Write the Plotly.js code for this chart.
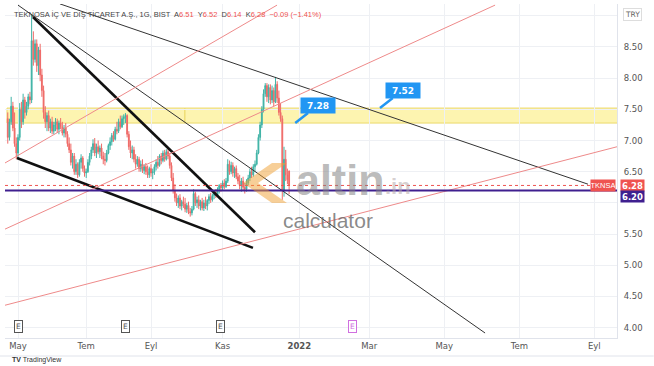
<!DOCTYPE html>
<html><head><meta charset="utf-8">
<script src="https://cdn.plot.ly/plotly-3.0.1.min.js"></script>
<style>html,body{margin:0;padding:0;background:#fff}#chart{width:654px;height:366px}</style>
</head><body><div id="chart"></div>
<script>
// ---- data (daily candles, TKNSA, BIST) ----
const firstDay = '2021-04-22';
const holidays = ['2021-04-23','2021-05-13','2021-05-14','2021-05-19','2021-07-15','2021-07-20','2021-07-21','2021-07-22','2021-07-23','2021-08-30','2021-10-29'];
const open = [7.35,7.05,7.30,7.55,7.20,6.95,6.80,7.05,7.50,7.30,7.65,7.45,7.55,7.70,7.65,8.60,8.30,8.55,8.20,8.45,8.05,7.80,7.45,7.30,7.40,7.20,7.30,7.15,7.25,7.30,7.18,7.28,7.22,7.12,7.20,7.10,6.95,6.85,6.65,6.75,6.50,6.62,6.45,6.65,6.72,6.55,6.48,6.50,6.65,6.75,6.85,6.95,6.80,6.90,6.82,6.88,6.75,6.70,6.68,6.80,6.92,6.98,7.08,7.02,7.18,7.15,7.30,7.22,7.35,7.38,7.40,7.10,6.90,6.80,6.85,6.70,6.62,6.70,6.55,6.62,6.52,6.58,6.50,6.45,6.55,6.48,6.50,6.58,6.65,6.60,6.75,6.68,6.80,6.70,6.82,6.75,6.60,6.40,6.20,6.08,6.00,6.08,5.95,6.02,5.98,5.90,5.96,5.86,5.84,5.90,6.15,6.00,6.05,5.95,6.02,5.92,6.00,5.95,6.04,6.10,6.05,6.12,6.18,6.12,6.22,6.28,6.24,6.32,6.26,6.35,6.62,6.50,6.60,6.48,6.55,6.42,6.35,6.28,6.35,6.25,6.22,6.32,6.40,6.50,6.45,6.58,6.62,6.80,7.05,7.25,7.50,7.75,7.88,7.70,7.85,7.65,7.80,7.62,7.90,7.68,7.45,7.35,6.20,6.70,6.45,6.51];
const high = [7.45,7.35,7.70,7.62,7.45,7.05,7.10,7.60,7.62,7.75,7.70,7.62,7.75,7.78,9.02,8.75,8.62,8.62,8.50,8.55,8.15,7.88,7.55,7.45,7.48,7.35,7.38,7.30,7.36,7.35,7.32,7.36,7.30,7.25,7.28,7.15,7.05,6.95,6.80,6.80,6.70,6.65,6.70,6.78,6.75,6.60,6.55,6.70,6.80,6.90,7.02,7.04,6.95,7.00,6.92,6.95,6.82,6.80,6.85,6.95,7.05,7.12,7.15,7.22,7.30,7.35,7.40,7.40,7.42,7.44,7.42,7.15,7.00,6.92,6.90,6.78,6.75,6.74,6.68,6.70,6.62,6.64,6.60,6.58,6.62,6.55,6.62,6.70,6.75,6.78,6.80,6.84,6.85,6.86,6.88,6.80,6.65,6.48,6.30,6.15,6.12,6.14,6.05,6.10,6.08,6.00,6.02,5.92,5.95,6.22,6.18,6.10,6.12,6.05,6.08,6.05,6.10,6.06,6.14,6.16,6.15,6.20,6.22,6.25,6.30,6.32,6.36,6.38,6.40,6.70,6.68,6.66,6.65,6.58,6.60,6.48,6.45,6.40,6.42,6.32,6.38,6.45,6.55,6.58,6.62,6.68,6.85,7.10,7.30,7.55,7.82,7.92,7.92,7.90,7.90,7.88,7.85,8.02,7.95,7.80,7.60,7.40,6.90,6.85,6.55,6.52];
const low = [6.95,7.00,7.25,7.15,6.90,6.70,6.72,7.00,7.20,7.25,7.35,7.40,7.50,7.58,7.60,8.20,8.25,8.10,8.05,7.95,7.70,7.35,7.20,7.15,7.15,7.12,7.10,7.10,7.15,7.12,7.10,7.18,7.08,7.05,7.05,6.90,6.80,6.60,6.55,6.45,6.45,6.40,6.42,6.55,6.50,6.42,6.40,6.48,6.60,6.70,6.80,6.75,6.72,6.78,6.72,6.70,6.62,6.60,6.65,6.78,6.85,6.92,6.98,7.00,7.10,7.12,7.18,7.20,7.25,7.28,7.05,6.85,6.72,6.70,6.65,6.55,6.58,6.50,6.50,6.48,6.46,6.45,6.40,6.40,6.42,6.38,6.45,6.52,6.55,6.58,6.62,6.65,6.66,6.68,6.70,6.55,6.35,6.15,6.02,5.95,5.92,5.90,5.88,5.92,5.85,5.84,5.82,5.78,5.80,5.88,5.95,5.92,5.90,5.88,5.88,5.87,5.90,5.88,5.98,6.00,6.02,6.06,6.08,6.10,6.15,6.18,6.20,6.22,6.24,6.32,6.45,6.46,6.42,6.40,6.38,6.30,6.22,6.18,6.20,6.15,6.18,6.28,6.35,6.40,6.42,6.50,6.60,6.78,7.00,7.20,7.45,7.70,7.62,7.60,7.58,7.60,7.55,7.60,7.60,7.40,7.30,6.05,6.10,6.35,6.30,6.14];
const close = [7.05,7.30,7.55,7.20,6.95,6.80,7.05,7.50,7.30,7.65,7.45,7.55,7.70,7.65,8.60,8.30,8.55,8.20,8.45,8.05,7.80,7.45,7.30,7.40,7.20,7.30,7.15,7.25,7.30,7.18,7.28,7.22,7.12,7.20,7.10,6.95,6.85,6.65,6.75,6.50,6.62,6.45,6.65,6.72,6.55,6.48,6.50,6.65,6.75,6.85,6.95,6.80,6.90,6.82,6.88,6.75,6.70,6.68,6.80,6.92,6.98,7.08,7.02,7.18,7.15,7.30,7.22,7.35,7.38,7.40,7.10,6.90,6.80,6.85,6.70,6.62,6.70,6.55,6.62,6.52,6.58,6.50,6.45,6.55,6.48,6.50,6.58,6.65,6.60,6.75,6.68,6.80,6.70,6.82,6.75,6.60,6.40,6.20,6.08,6.00,6.08,5.95,6.02,5.98,5.90,5.96,5.86,5.84,5.90,6.15,6.00,6.05,5.95,6.02,5.92,6.00,5.95,6.04,6.10,6.05,6.12,6.18,6.12,6.22,6.28,6.24,6.32,6.26,6.35,6.62,6.50,6.60,6.48,6.55,6.42,6.35,6.28,6.35,6.25,6.22,6.32,6.40,6.50,6.45,6.58,6.62,6.80,7.05,7.25,7.50,7.75,7.88,7.70,7.85,7.65,7.80,7.62,7.90,7.68,7.45,7.35,6.20,6.70,6.45,6.37,6.28];

// x axis ticks (Turkish month names)
const tickDates = ['2021-05-03','2021-07-01','2021-09-01','2021-11-01','2022-01-03','2022-03-01','2022-05-02','2022-07-01','2022-09-01'];
const tickLabels = ['May','Tem','Eyl','Kas','<b>2022</b>','Mar','May','Tem','Eyl'];
const priceTicks = [4,4.5,5,5.5,6,6.5,7,7.5,8,8.5,9];
const priceTickLabels = ['4.00','4.50','5.00','5.50','','6.50','7.00','7.50','8.00','8.50',''];

// drawings (date, price endpoints)
const thickLines = [
  {x:['2021-05-17 19:00','2021-11-26 00:00'], y:[8.98,5.53]},
  {x:['2021-04-30 10:00','2021-11-24 19:00'], y:[6.72,5.28]}
];
const thinLines = [
  {x:['2021-05-03 00:00','2022-06-02 22:00'], y:[9.17,3.915]},
  {x:['2021-06-09 14:00','2022-08-26 07:00'], y:[9.19,6.30]}
];
const redLines = [
  {x:['2021-04-20 09:00','2022-09-20 07:00'], y:[4.36,6.90]},
  {x:['2021-04-20 09:00','2022-06-10 19:00'], y:[5.58,9.17]},
  {x:['2021-04-20 09:00','2021-12-14 22:00'], y:[6.64,9.17]}
];
const zone = {low:7.28, high:7.52, x:['2021-04-21 13:00','2021-09-28 22:00','2022-10-31']};
const lastPrice = 6.28, supportLevel = 6.20;
const callouts = [{x:'2021-12-29 14:00', y:7.28, text:'7.28'},{x:'2022-03-09 07:00', y:7.52, text:'7.52'}];
const earnings = [{x:'2021-05-03',c:'#555'},{x:'2021-08-10',c:'#555'},{x:'2021-10-28',c:'#555'},{x:'2022-02-15',c:'#d070e0'}];
const xRange = ['2021-04-20 09:00','2022-09-20 07:00'];
const yRange = [3.835, 9.188];

function tradingDays(start, n){
  const out=[]; const d=new Date(start+'T00:00:00Z');
  while(out.length<n){
    const s=d.toISOString().slice(0,10), w=d.getUTCDay();
    if(w!==0 && w!==6 && !holidays.includes(s)) out.push(s);
    d.setUTCDate(d.getUTCDate()+1);
  }
  return out;
}
const dates = tradingDays(firstDay, close.length);

const traces = [{
  type:'candlestick', x:dates, open:open, high:high, low:low, close:close,
  increasing:{line:{color:'#3fb3a6',width:1},fillcolor:'#3fb3a6'},
  decreasing:{line:{color:'#ef6a67',width:1},fillcolor:'#ef6a67'},
  hoverinfo:'skip', showlegend:false
}];
thickLines.forEach(l=>traces.push({type:'scatter',mode:'lines',x:l.x,y:l.y,line:{color:'#111',width:2.6},hoverinfo:'skip',showlegend:false}));
thinLines.forEach(l=>traces.push({type:'scatter',mode:'lines',x:l.x,y:l.y,line:{color:'#333',width:1},hoverinfo:'skip',showlegend:false}));
redLines.forEach(l=>traces.push({type:'scatter',mode:'lines',x:l.x,y:l.y,line:{color:'#ee8a8a',width:1},hoverinfo:'skip',showlegend:false}));

const px = v => (v-5)/612, py = v => (338-v)/334;
const shapes = [
  {type:'rect',xref:'x',yref:'y',x0:zone.x[0],x1:zone.x[1],y0:zone.low,y1:zone.high,fillcolor:'#fdf4b0',line:{color:'#ecd96a',width:1},layer:'below'},
  {type:'rect',xref:'x',yref:'y',x0:zone.x[1],x1:zone.x[2],y0:zone.low,y1:zone.high,fillcolor:'#fdf4b0',line:{color:'#ecd96a',width:1},layer:'below'},
  {type:'line',xref:'paper',yref:'y',x0:0,x1:1,y0:lastPrice,y1:lastPrice,line:{color:'#ef5350',width:1,dash:'dot'}},
  {type:'line',xref:'paper',yref:'y',x0:0,x1:1,y0:supportLevel,y1:supportLevel,line:{color:'#3f1f8f',width:2}},
  {type:'path',xref:'paper',yref:'paper',
   path:`M${px(287)},${py(163)} L${px(272)},${py(163)} L${px(243)},${py(183)} L${px(272)},${py(203)} L${px(287)},${py(203)} L${px(258)},${py(183)} Z`,
   fillcolor:'rgba(240,160,50,0.5)',line:{width:0}},
  {type:'line',xref:'paper',yref:'paper',x0:-0.01,x1:1.06,y0:py(356),y1:py(356),line:{color:'#e0e3eb',width:1}}
];

const F = 'DejaVu Sans';
const annotations = [
  {xref:'paper',yref:'paper',x:px(12),y:py(14),xanchor:'left',yanchor:'middle',showarrow:false,
   font:{family:'Liberation Sans',size:7.5,color:'#444'},
   text:'TEKNOSA İÇ VE DIŞ TİCARET A.Ş., 1G, BIST  A<span style="color:#ef5350">6.51</span>  Y<span style="color:#ef5350">6.52</span>  D<span style="color:#ef5350">6.14</span>  K<span style="color:#ef5350">6.28</span>  <span style="color:#ef5350">−0.09 (−1.41%)</span>'},
  {xref:'paper',yref:'paper',x:1,xshift:15,y:1,yshift:-10,xanchor:'center',yanchor:'middle',showarrow:false,
   text:'TRY',font:{family:F,size:7.5,color:'#666'},bordercolor:'#ddd',borderwidth:1,borderpad:1,bgcolor:'#fff'},
  {xref:'paper',yref:'y',x:1,xshift:3,y:lastPrice,xanchor:'left',yanchor:'middle',showarrow:false,
   text:'<b>6.28</b>',font:{family:F,size:8.5,color:'#fff'},bgcolor:'#ef5350',width:23,height:11,borderpad:0},
  {xref:'paper',yref:'y',x:1,xshift:-1,y:lastPrice,xanchor:'right',yanchor:'middle',showarrow:false,
   text:'TKNSA',font:{family:'Liberation Sans',size:7.5,color:'#fff'},bgcolor:'#ef5350',width:24,height:11,borderpad:0},
  {xref:'paper',yref:'y',x:1,xshift:3,y:supportLevel,yshift:-6,xanchor:'left',yanchor:'middle',showarrow:false,
   text:'<b>6.20</b>',font:{family:F,size:8.5,color:'#fff'},bgcolor:'#3f1f8f',width:23,height:11,borderpad:0},
  {xref:'paper',yref:'paper',x:px(294),y:py(180),xanchor:'left',yanchor:'middle',showarrow:false,
   text:'<b>altin</b>',font:{family:'Liberation Sans',size:43,color:'rgba(130,130,130,0.55)'}},
  {xref:'paper',yref:'paper',x:px(383),y:py(186),xanchor:'left',yanchor:'middle',showarrow:false,
   text:'<b>.in</b>',font:{family:'Liberation Sans',size:22,color:'rgba(180,170,170,0.55)'}},
  {xref:'paper',yref:'paper',x:px(281),y:py(220),xanchor:'left',yanchor:'middle',showarrow:false,
   text:'calculator',font:{family:'Liberation Sans',size:21,color:'rgba(100,100,100,0.75)'}},
  {xref:'paper',yref:'paper',x:px(10),y:py(360),xanchor:'left',yanchor:'middle',showarrow:false,
   text:'<b>TV</b> TradingView',font:{family:'Liberation Sans',size:7,color:'#333'}}
];
callouts.forEach(c=>annotations.push({xref:'x',yref:'y',x:c.x,y:c.y,ax:23,ay:-18,showarrow:true,arrowhead:0,arrowwidth:2.5,arrowcolor:'#2196f3',standoff:0,
  text:'<b>'+c.text+'</b>',font:{family:F,size:9,color:'#fff'},bgcolor:'#2196f3',width:34,height:15,borderpad:0}));
earnings.forEach(e=>annotations.push({xref:'x',yref:'paper',x:e.x,y:0,yshift:5,xanchor:'center',yanchor:'bottom',showarrow:false,
  text:'E',font:{family:F,size:7.5,color:e.c},bordercolor:e.c,borderwidth:1,borderpad:1,bgcolor:'#fff'}));

const layout = {
  width:654,height:366,margin:{l:5,r:37,t:4,b:28},
  paper_bgcolor:'#fff',plot_bgcolor:'#fff',showlegend:false,hovermode:false,
  xaxis:{type:'date',range:xRange,rangeslider:{visible:false},
    rangebreaks:[{bounds:['sat','mon']},{values:holidays}],
    tickvals:tickDates,ticktext:tickLabels,tickfont:{family:F,size:8.5,color:'#555'},
    showgrid:true,gridcolor:'#eef0f4',zeroline:false,showline:true,linecolor:'#e0e3eb',ticks:'',fixedrange:true},
  yaxis:{side:'right',range:yRange,tickvals:priceTicks,ticktext:priceTickLabels,
    tickfont:{family:F,size:8.5,color:'#555'},showgrid:true,gridcolor:'#eef0f4',zeroline:false,
    showline:true,linecolor:'#e0e3eb',ticks:'outside',ticklen:4,tickcolor:'rgba(0,0,0,0)',fixedrange:true},
  shapes:shapes,annotations:annotations
};
Plotly.newPlot('chart',traces,layout,{staticPlot:true,displayModeBar:false});
</script></body></html>
